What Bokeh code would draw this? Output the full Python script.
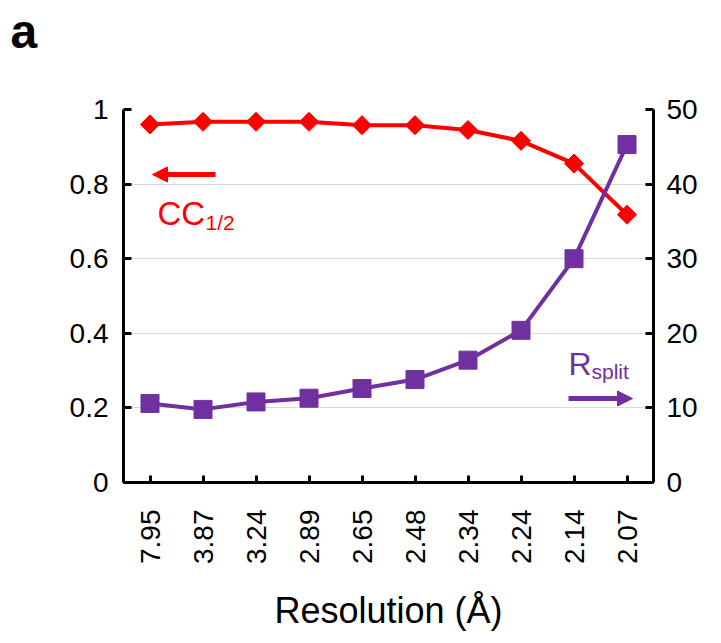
import math
from bokeh.plotting import figure
from bokeh.models import (Range1d, LinearAxis, FixedTicker, CustomJSTickFormatter,
                          Label, Arrow, NormalHead, FactorRange, ColumnDataSource, Title)
from bokeh.embed import file_html
from bokeh.resources import INLINE

# ---- data ----
resolution = ["7.95", "3.87", "3.24", "2.89", "2.65", "2.48", "2.34", "2.24", "2.14", "2.07"]
cc_half = [0.960, 0.967, 0.967, 0.967, 0.958, 0.958, 0.945, 0.916, 0.855, 0.718]
r_split = [10.6, 9.8, 10.8, 11.3, 12.6, 13.8, 16.4, 20.4, 30.0, 45.3]
left_ticks = [0, 0.2, 0.4, 0.6, 0.8, 1.0]
right_ticks = [0, 10, 20, 30, 40, 50]

RED = "#ff0000"
PURPLE = "#7030a0"
FONT = "Liberation Sans"

src = ColumnDataSource(dict(res=resolution, cc=cc_half, rs=r_split))

p = figure(x_range=FactorRange(factors=resolution, range_padding=0),
           y_range=Range1d(0, 1),
           frame_width=530, frame_height=373,
           min_border_left=123, min_border_right=66,
           min_border_top=109, min_border_bottom=158,
           output_backend="svg", toolbar_location=None)
p.outline_line_color = None
p.background_fill_color = "white"
p.border_fill_color = "white"

p.extra_y_ranges = {"r": Range1d(0, 50)}
right = LinearAxis(y_range_name="r", ticker=FixedTicker(ticks=right_ticks))
p.add_layout(right, "right")

left = p.left[0]
left.ticker = FixedTicker(ticks=left_ticks)
left.formatter = CustomJSTickFormatter(code="return String(Math.round(tick*10)/10)")
bottom = p.below[0]

for ax in (left, right, bottom):
    ax.axis_line_width = 3
    ax.axis_line_color = "black"
    ax.major_tick_in = 8
    ax.major_tick_out = 0
    ax.major_tick_line_width = 3
    ax.major_tick_line_color = "black"
    ax.minor_tick_line_color = None
    ax.major_label_text_font = FONT
    ax.major_label_text_font_size = "28px"
    ax.major_label_text_color = "black"

left.major_label_standoff = 15
right.major_label_standoff = 13
bottom.major_tick_in = 7
bottom.major_label_orientation = math.pi / 2
bottom.major_label_standoff = 27
bottom.axis_label = "Resolution (Å)"
bottom.axis_label_text_font = FONT
bottom.axis_label_text_font_size = "36px"
bottom.axis_label_text_font_style = "normal"
bottom.axis_label_text_color = "black"
bottom.axis_label_standoff = 23

p.xgrid.visible = False
p.ygrid.ticker = FixedTicker(ticks=left_ticks)
p.ygrid.grid_line_color = "#d9d9d9"
p.ygrid.grid_line_width = 1

# CC1/2 series (left axis)
p.line(x="res", y="cc", source=src, line_color=RED, line_width=4)
p.scatter(x="res", y="cc", source=src, marker="square", angle=math.pi / 4,
          size=13.5, fill_color=RED, line_color=RED)

# Rsplit series (right axis)
p.line(x="res", y="rs", source=src, line_color=PURPLE, line_width=4, y_range_name="r")
p.scatter(x="res", y="rs", source=src, marker="square", size=18,
          fill_color=PURPLE, line_color=PURPLE, y_range_name="r")

# annotations (screen units relative to frame)
p.add_layout(Arrow(end=NormalHead(size=15, fill_color=RED, line_color=RED),
                   x_start=92, y_start=308, x_end=29, y_end=308,
                   start_units="screen", end_units="screen",
                   line_color=RED, line_width=5))
p.add_layout(Arrow(end=NormalHead(size=15, fill_color=PURPLE, line_color=PURPLE),
                   x_start=445, y_start=84, x_end=509, y_end=84,
                   start_units="screen", end_units="screen",
                   line_color=PURPLE, line_width=5))

def lab(text, x, y, size, color, style="normal"):
    p.add_layout(Label(text=text, x=x, y=y, x_units="screen", y_units="screen",
                       text_font=FONT, text_font_size=size, text_color=color,
                       text_font_style=style, text_baseline="alphabetic",
                       text_align="left"))

lab("CC", 34, 269, "33px", RED)
lab("1/2", 82, 260, "21px", RED)
lab("R", 445, 119, "32px", PURPLE)
lab("split", 468, 111, "21px", PURPLE)

# spacer between frame and panel letter, then the panel letter itself
p.add_layout(Title(text=" ", text_font_size="2px", standoff=48), "above")
p.add_layout(Title(text="a", align="left", offset=-113, text_font=FONT,
                   text_font_size="48px", text_font_style="bold",
                   text_color="black", standoff=0), "above")

open("out.html", "w").write(file_html(p, INLINE))
